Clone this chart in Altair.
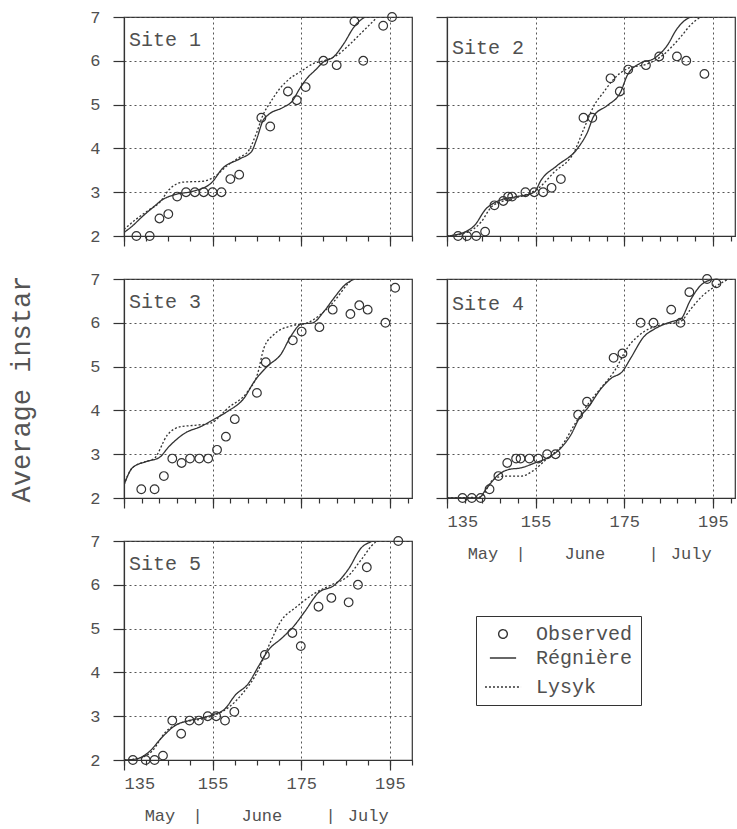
import altair as alt
import pandas as pd

# ---- Site 1 ----
s1_obs_day = [137.8, 140.8, 143, 145, 147, 149, 151, 153, 155, 157, 159, 161, 166, 168, 172, 174, 176, 180, 183, 187, 189, 193.5, 195.5]
s1_obs_val = [2.0, 2.0, 2.4, 2.5, 2.9, 3.0, 3.0, 3.0, 3.0, 3.0, 3.3, 3.4, 4.7, 4.5, 5.3, 5.1, 5.4, 6.0, 5.9, 6.9, 6.0, 6.8, 7.0]
s1_reg_day = [135, 136.9, 139.2, 141.4, 143.7, 146.7, 150.5, 154.7, 157.3, 161.1, 163.8, 164.9, 166.4, 167.6, 171, 172.9, 174.8, 176.3, 178.2, 180.1, 182.3, 184.6, 186.9, 188.8, 189.5]
s1_reg_val = [2.08, 2.23, 2.45, 2.64, 2.83, 2.95, 3.02, 3.21, 3.55, 3.76, 3.93, 4.2, 4.64, 4.77, 4.94, 5.07, 5.39, 5.6, 5.79, 5.98, 6.09, 6.39, 6.77, 6.96, 7.0]
s1_lys_day = [135, 137.7, 140.7, 143, 145.2, 148.3, 152.8, 155.5, 158.1, 161.1, 163, 164.9, 166.4, 167.9, 170.2, 172.5, 174.8, 177.8, 180.1, 183.1, 185.8, 188.4, 190.7, 192.2]
s1_lys_val = [2.15, 2.38, 2.6, 2.76, 3.06, 3.23, 3.25, 3.36, 3.59, 3.8, 3.93, 4.35, 4.77, 5.03, 5.37, 5.6, 5.75, 5.94, 6.0, 6.13, 6.36, 6.62, 6.85, 7.0]

# ---- Site 2 ----
s2_obs_day = [137.5, 139.5, 141.6, 143.6, 145.7, 147.7, 148.8, 149.7, 152.7, 154.7, 156.7, 158.6, 160.7, 165.8, 167.8, 171.9, 174, 175.9, 179.9, 182.9, 186.9, 189, 193.1]
s2_obs_val = [2.0, 2.0, 2.0, 2.1, 2.7, 2.8, 2.9, 2.9, 3.0, 3.0, 3.0, 3.1, 3.3, 4.7, 4.7, 5.6, 5.3, 5.8, 5.9, 6.1, 6.1, 6.0, 5.7]
s2_reg_day = [135, 139, 141.2, 143.8, 145.7, 148, 150.2, 154.7, 156.2, 159.9, 164.4, 166.7, 168.2, 171.2, 174.2, 175.7, 178.7, 181.7, 184.7, 186.9, 189.2, 190]
s2_reg_val = [2.0, 2.09, 2.24, 2.62, 2.76, 2.85, 2.89, 3.0, 3.27, 3.61, 3.99, 4.37, 4.75, 4.98, 5.29, 5.67, 5.95, 6.05, 6.35, 6.73, 6.96, 7.0]
s2_lys_day = [135, 139.7, 142.7, 145, 148, 152.5, 155.5, 159.2, 163.7, 165.9, 168.2, 170.4, 172.7, 175.7, 180.2, 183.2, 187.7, 189.9, 192.2]
s2_lys_val = [2.0, 2.09, 2.32, 2.66, 2.81, 2.93, 3.08, 3.46, 3.92, 4.45, 4.98, 5.29, 5.59, 5.82, 5.93, 6.09, 6.54, 6.81, 7.0]

# ---- Site 3 ----
s3_obs_day = [138.9, 141.9, 144, 145.9, 148, 149.9, 152, 154, 156, 158, 160, 165, 167, 173.1, 175.1, 179.1, 182.1, 186.1, 188.1, 190, 194, 196.2]
s3_obs_val = [2.2, 2.2, 2.5, 2.9, 2.8, 2.9, 2.9, 2.9, 3.1, 3.4, 3.8, 4.4, 5.1, 5.6, 5.8, 5.9, 6.3, 6.2, 6.4, 6.3, 6.0, 6.8]
s3_reg_day = [135, 136.9, 139.9, 142.9, 145.2, 148.9, 152.3, 155, 158.4, 162.1, 164.4, 167.4, 170.4, 172.7, 175, 177.6, 180.2, 182.5, 184.7, 187]
s3_reg_val = [2.3, 2.69, 2.83, 2.92, 3.18, 3.49, 3.63, 3.78, 3.98, 4.28, 4.66, 5.01, 5.28, 5.7, 5.97, 6.0, 6.27, 6.58, 6.85, 7.0]
s3_lys_day = [135, 136.9, 139.9, 141.8, 144.8, 147.8, 151, 154.6, 158.4, 162.9, 165.1, 166.6, 168.9, 172.7, 176.4, 179.5, 182.5, 185.5, 186.6]
s3_lys_val = [2.3, 2.69, 2.83, 2.9, 3.44, 3.63, 3.66, 3.71, 4.05, 4.43, 4.82, 5.43, 5.74, 5.93, 6.0, 6.2, 6.5, 6.89, 7.0]

# ---- Site 4 ----
s4_obs_day = [138.5, 140.6, 142.6, 144.6, 146.6, 148.6, 150.6, 151.6, 153.6, 155.6, 157.6, 159.5, 164.6, 166.6, 172.6, 174.6, 178.7, 181.6, 185.6, 187.7, 189.7, 193.7, 195.8]
s4_obs_val = [2.0, 2.0, 2.0, 2.2, 2.5, 2.8, 2.9, 2.9, 2.9, 2.9, 3.0, 3.0, 3.9, 4.2, 5.2, 5.3, 6.0, 6.0, 6.3, 6.0, 6.7, 7.0, 6.9]
s4_reg_day = [135, 142.1, 144, 146.6, 148.9, 151.8, 154.8, 157.8, 160.8, 163, 164.9, 166.8, 169.8, 172, 174.6, 176.5, 179.5, 181.7, 186.2, 187.7, 189.9, 192.2, 194.5, 195.5]
s4_reg_val = [2.0, 2.0, 2.23, 2.53, 2.65, 2.69, 2.8, 2.92, 3.15, 3.45, 3.83, 4.06, 4.5, 4.73, 4.89, 5.2, 5.69, 5.85, 6.04, 6.08, 6.51, 6.85, 6.98, 7.0]
s4_lys_day = [135, 142.5, 145.4, 147.9, 151.8, 154.4, 157.8, 160.8, 163.8, 166.8, 169.8, 172.8, 175.8, 179.5, 183.2, 187.7, 189.9, 192.9, 195.9, 198.2]
s4_lys_val = [2.0, 2.02, 2.42, 2.5, 2.5, 2.62, 2.92, 3.18, 3.68, 4.14, 4.52, 4.9, 5.44, 5.8, 5.95, 6.03, 6.3, 6.64, 6.85, 6.98]

# ---- Site 5 ----
s5_obs_day = [137, 139.9, 141.9, 143.8, 145.9, 147.9, 149.8, 151.9, 153.9, 155.8, 157.8, 159.9, 166.8, 173, 174.9, 178.9, 181.8, 185.7, 187.8, 189.8, 196.9]
s5_obs_val = [2.0, 2.0, 2.0, 2.1, 2.9, 2.6, 2.9, 2.9, 3.0, 3.0, 2.9, 3.1, 4.4, 4.9, 4.6, 5.5, 5.7, 5.6, 6.0, 6.4, 7.0]
s5_reg_day = [135, 137.6, 140.6, 143.6, 146.6, 149.6, 152.6, 154.9, 157.8, 160.1, 163.1, 165.3, 167.6, 170.6, 173.6, 175.8, 178.8, 182.6, 185.6, 188.6, 190.8]
s5_reg_val = [2.0, 2.02, 2.18, 2.52, 2.79, 2.9, 2.96, 3.03, 3.17, 3.48, 3.75, 4.13, 4.51, 4.78, 5.09, 5.39, 5.81, 6.0, 6.35, 6.85, 6.98]
s5_lys_day = [135, 139.1, 141.4, 144.4, 147.4, 152.6, 155.6, 158.6, 161.6, 165.3, 167.6, 170.6, 173.6, 178.1, 181.8, 185.6, 188.6, 191.6, 192.3]
s5_lys_val = [2.0, 2.06, 2.21, 2.64, 2.83, 2.94, 3.03, 3.2, 3.5, 4.05, 4.59, 5.2, 5.47, 5.81, 6.0, 6.2, 6.58, 6.96, 7.0]

# Axis ticks and month annotation
major_days = [135, 155, 175, 195]
instar_ticks = [2, 3, 4, 5, 6, 7]
month_days = [143, 151.5, 166, 181.5, 190]
month_names = ["May", "|", "June", "|", "July"]
series_names = ["Observed", "Régnière", "Lysyk"]

FONT = "Liberation Mono"
INK = "#333333"
TEXT = "#505050"
W, H = 288, 219

shape_scale = alt.Scale(domain=series_names, range=["circle", "stroke", "stroke"])
size_scale = alt.Scale(domain=series_names, range=[75, 1300, 1300])
dash_scale = alt.Scale(domain=series_names, range=[[1, 0], [1, 0], [2, 2]])

LEGEND = alt.Legend(
    title=None, orient="none", legendX=352, legendY=599,
    strokeColor=INK, padding=8, labelFont=FONT, labelFontSize=20,
    labelColor=TEXT, labelOffset=14, rowPadding=0,
    symbolStrokeColor=INK, symbolStrokeWidth=1.4, symbolFillColor="transparent",
)

month_expr = "{}[indexof({}, datum.value)]".format(
    "[" + ",".join("'" + m + "'" for m in month_names) + "]",
    "[" + ",".join(str(d) for d in month_days) + "]",
)


def panel(name, obs_day, obs_val, reg_day, reg_val, lys_day, lys_val,
          minor_step, y_labels, x_labels, y_title=None):
    obs = pd.DataFrame({"day": obs_day, "instar": obs_val, "series": "Observed"})
    lines = pd.concat([
        pd.DataFrame({"day": reg_day, "instar": reg_val, "series": "Régnière"}),
        pd.DataFrame({"day": lys_day, "instar": lys_val, "series": "Lysyk"}),
    ])
    xs = alt.Scale(domain=[135, 200], nice=False, zero=False)
    ys = alt.Scale(domain=[2, 7], nice=False, zero=False)

    y_axis = alt.Axis(values=instar_ticks, tickSize=11, labels=y_labels,
                      labelPadding=13, grid=True, gridDash=[2, 3],
                      titlePadding=54, titleFontSize=27, titleFont=FONT,
                      titleFontWeight="normal", titleColor="#555555")
    y_enc = alt.Y("instar:Q", scale=ys, axis=y_axis, title=y_title)

    major_axis = alt.Axis(values=major_days, tickSize=10, labels=x_labels,
                          labelPadding=5, grid=True, gridDash=[2, 3],
                          orient="bottom", title=None)
    minor_axis = alt.Axis(values=list(range(135, 201, minor_step)), tickSize=5,
                          labels=False, grid=False, domain=False,
                          orient="bottom", title=None)

    line_layer = alt.Chart(lines).mark_line(
        interpolate="monotone", color=INK, strokeWidth=1.3, clip=True
    ).encode(
        x=alt.X("day:Q", scale=xs, axis=major_axis),
        y=y_enc,
        strokeDash=alt.StrokeDash("series:N", scale=dash_scale, legend=LEGEND),
    )
    point_layer = alt.Chart(obs).mark_point(
        filled=False, color=INK, strokeWidth=1.2, opacity=1
    ).encode(
        x=alt.X("day:Q", scale=xs, axis=minor_axis),
        y=y_enc,
        shape=alt.Shape("series:N", scale=shape_scale, legend=LEGEND),
        size=alt.Size("series:N", scale=size_scale, legend=LEGEND),
    )
    layers = [line_layer, point_layer]
    if x_labels:
        month_axis = alt.Axis(values=month_days, labelExpr=month_expr,
                              ticks=False, tickSize=0, domain=False, grid=False,
                              labelPadding=47, labelFontSize=17,
                              orient="bottom", title=None)
        layers.append(
            alt.Chart(obs).mark_point(opacity=0).encode(
                x=alt.X("day:Q", scale=xs, axis=month_axis), y=y_enc
            )
        )
    return alt.layer(*layers).resolve_axis(x="independent").properties(
        width=W, height=H,
        title=alt.TitleParams(text=name, anchor="start", frame="group",
                              orient="top", offset=-30, dx=5, dy=28,
                              baseline="alphabetic", fontSize=20, font=FONT,
                              fontWeight="normal", color=TEXT),
    )


p1 = panel("Site 1", s1_obs_day, s1_obs_val, s1_reg_day, s1_reg_val, s1_lys_day, s1_lys_val, 5, True, False)
p2 = panel("Site 2", s2_obs_day, s2_obs_val, s2_reg_day, s2_reg_val, s2_lys_day, s2_lys_val, 4, False, False)
p3 = panel("Site 3", s3_obs_day, s3_obs_val, s3_reg_day, s3_reg_val, s3_lys_day, s3_lys_val, 4, True, False, "Average instar")
p4 = panel("Site 4", s4_obs_day, s4_obs_val, s4_reg_day, s4_reg_val, s4_lys_day, s4_lys_val, 4, False, True)
p5 = panel("Site 5", s5_obs_day, s5_obs_val, s5_reg_day, s5_reg_val, s5_lys_day, s5_lys_val, 5, True, True)

chart = alt.concat(
    p1, p2, p3, p4, p5, columns=2, spacing={"row": 43, "column": 35}, bounds="flush"
).properties(
    padding={"left": 7, "top": 7, "right": 0, "bottom": 0}
).configure(
    font=FONT,
).configure_view(
    stroke=INK, strokeWidth=1.2
).configure_axis(
    domainColor=INK, tickColor=INK, gridColor="#555555", gridWidth=1,
    labelFont=FONT, labelFontSize=17, labelColor=TEXT, domainWidth=1.2,
    tickWidth=1.2,
)

chart.save("out.html", embed_options={"renderer": "svg", "actions": False})
